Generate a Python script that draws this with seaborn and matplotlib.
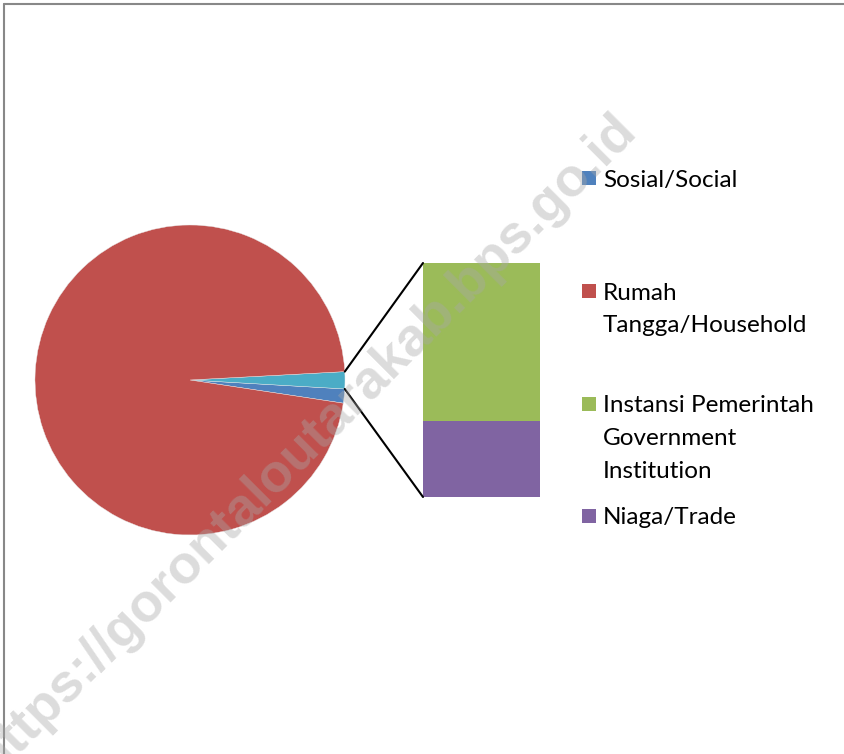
import matplotlib
matplotlib.use("Agg")
import matplotlib.pyplot as plt
import seaborn as sns
import numpy as np
from matplotlib.patches import ConnectionPatch, Rectangle
from matplotlib.lines import Line2D

# ---- data ----
categories = ["Sosial/Social", "Rumah Tangga/Household",
              "Instansi Pemerintah Government Institution", "Niaga/Trade"]
legend_labels = ["Sosial/Social", "Rumah\nTangga/Household",
                 "Instansi Pemerintah\nGovernment\nInstitution", "Niaga/Trade"]
values = [1.47, 96.75, 1.20, 0.58]          # percent shares
colors = ["#4F81BD", "#C0504D", "#9BBB59", "#8064A2"]
other_color = "#4BACC6"
watermark = "https://gorontaloutarakab.bps.go.id"

sns.set_theme(style="white")
plt.rcParams['font.family'] = ['Lato', 'DejaVu Sans']

W, H = 845, 754
fig = plt.figure(figsize=(W / 100, H / 100), dpi=100)
fig.patch.set_facecolor("white")


def fr(x0, y0, x1, y1):
    return [x0 / W, 1 - y1 / H, (x1 - x0) / W, (y1 - y0) / H]


# ---- pie ----
ax_pie = fig.add_axes(fr(35, 225, 345, 535))
other_total = values[2] + values[3]
pie_vals = [values[0], other_total, values[1]]
pie_cols = [colors[0], other_color, colors[1]]
wedges, _ = ax_pie.pie(pie_vals, colors=pie_cols, startangle=-8.6,
                       counterclock=True, radius=1,
                       wedgeprops=dict(linewidth=0.3, edgecolor="#e8e8e8"))
ax_pie.set_xlim(-1, 1)
ax_pie.set_ylim(-1, 1)
ax_pie.axis("off")

# ---- stacked bar of the "other" slice ----
ax_bar = fig.add_axes(fr(423, 263, 540, 497))
ax_bar.bar([0], [values[3]], width=1, color=colors[3], linewidth=0)
ax_bar.bar([0], [values[2]], bottom=[values[3]], width=1, color=colors[2], linewidth=0)
ax_bar.set_xlim(-0.5, 0.5)
ax_bar.set_ylim(0, other_total)
ax_bar.axis("off")

# connector lines
t1, t2 = np.radians(wedges[1].theta1), np.radians(wedges[1].theta2)
for th, yb in [(t2, other_total), (t1, 0)]:
    con = ConnectionPatch(xyA=(np.cos(th), np.sin(th)), coordsA=ax_pie.transData,
                          xyB=(-0.5, yb), coordsB=ax_bar.transData,
                          color="black", lw=1.5)
    fig.add_artist(con)

# ---- legend (manual, Excel-like spacing) ----
leg_y = [178, 291, 404, 516]
line_gap = 32.5
for lab, col, yc in zip(legend_labels, colors, leg_y):
    fig.add_artist(Rectangle((582 / W, 1 - (yc + 7) / H), 14 / W, 14 / H,
                             transform=fig.transFigure, color=col, lw=0))
    for k, line in enumerate(lab.split("\n")):
        fig.text(603 / W, 1 - (yc + k * line_gap) / H, line, ha="left",
                 va="center_baseline", fontsize=17.5, color="#000000")

# ---- watermark ----
fig.text(306 / W, 1 - 444 / H, watermark, rotation=45, rotation_mode="anchor",
         ha="center", va="center", fontsize=39, fontweight="bold",
         family="Liberation Sans", color="#a8a8a8", alpha=0.4, zorder=10)

# ---- frame ----
fig.add_artist(Line2D([4.5 / W, 4.5 / W], [0, 1 - 3.5 / H], color="#888888", lw=1.5))
fig.add_artist(Line2D([4.5 / W, 1], [1 - 3.5 / H, 1 - 3.5 / H], color="#888888", lw=1.5))

fig.savefig("out.png", dpi=100, facecolor="white")
